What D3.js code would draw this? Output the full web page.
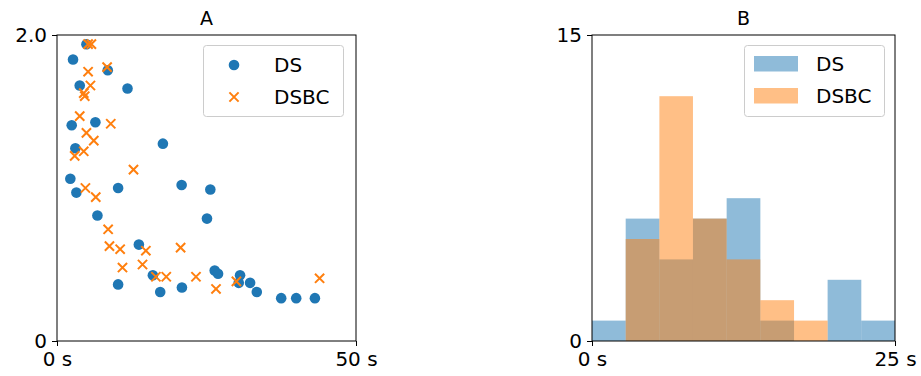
<!DOCTYPE html>
<html>
<head>
<meta charset="utf-8">
<script src="https://cdn.jsdelivr.net/npm/d3@7"></script>
<style>
  html, body { margin: 0; padding: 0; background: #fff; }
  svg { display: block; font-family: "DejaVu Sans", sans-serif; }
</style>
</head>
<body>
<svg id="chart" width="921" height="376"></svg>
<script>
// Scatter: duration (s) vs. value for each condition
const dsTime  = [4.92, 2.68, 3.80, 8.49, 11.79, 2.46, 6.42, 3.07, 17.71, 2.23, 3.24, 10.22, 20.84, 25.64, 6.76, 25.08, 13.69, 16.03, 10.22, 17.26, 20.89, 26.37, 26.93, 30.61, 30.39, 32.29, 33.41, 37.49, 40.00, 43.13];
const dsValue = [1.94, 1.84, 1.67, 1.77, 1.65, 1.41, 1.43, 1.26, 1.29, 1.06, 0.97, 1.00, 1.02, 0.99, 0.82, 0.80, 0.63, 0.43, 0.37, 0.32, 0.35, 0.46, 0.44, 0.43, 0.38, 0.38, 0.32, 0.28, 0.28, 0.28];
const dsbcTime  = [5.20, 5.75, 5.20, 8.38, 5.59, 4.47, 4.64, 3.80, 8.99, 4.92, 6.15, 4.47, 2.96, 12.79, 4.75, 6.48, 8.55, 8.77, 10.56, 14.86, 20.67, 10.95, 14.30, 16.54, 18.27, 23.24, 26.59, 30.00, 43.91];
const dsbcValue = [1.94, 1.94, 1.76, 1.79, 1.67, 1.62, 1.60, 1.47, 1.42, 1.36, 1.31, 1.24, 1.21, 1.12, 1.00, 0.94, 0.73, 0.62, 0.60, 0.59, 0.61, 0.48, 0.50, 0.42, 0.42, 0.42, 0.34, 0.39, 0.41];

// Histogram: shared bin edges (s) and counts per condition
const binEdges   = [0, 2.78, 5.56, 8.33, 11.11, 13.89, 16.67, 19.44, 22.22, 25];
const dsCounts   = [1, 6, 4, 6, 7, 1, 0, 3, 1];
const dsbcCounts = [0, 5, 12, 6, 4, 2, 1, 0, 0];

// Axis ranges and tick labels
const scatterXTicks = [0, 50];
const scatterYTicks = [0, 2.0];
const histXTicks = [0, 25];
const histYTicks = [0, 15];
const seriesNames = ["DS", "DSBC"];
const titles = ["A", "B"];

const blue = "#1f77b4", orange = "#ff7f0e";
const svg = d3.select("#chart");

const plotTop = 35, plotBottom = 341;
const panelA = { x0: 57, x1: 356 };
const panelB = { x0: 592, x1: 895 };

function frame(g, x, y, xTicks, xFmt, yTicks, yFmt, title) {
  const [xa, xb] = x.range();
  g.append("rect").attr("x", xa).attr("y", plotTop).attr("width", xb - xa).attr("height", plotBottom - plotTop)
    .attr("fill", "none").attr("stroke", "#000").attr("stroke-width", 1);
  const xAxis = g.append("g").attr("transform", `translate(0,${plotBottom})`)
    .call(d3.axisBottom(x).tickValues(xTicks).tickFormat(xFmt).tickSizeOuter(0).tickSize(5).tickPadding(6));
  const yAxis = g.append("g").attr("transform", `translate(${xa},0)`)
    .call(d3.axisLeft(y).tickValues(yTicks).tickFormat(yFmt).tickSizeOuter(0).tickSize(5).tickPadding(5));
  [xAxis, yAxis].forEach(a => {
    a.select(".domain").remove();
    a.selectAll("text").attr("font-size", 20).attr("fill", "#000").attr("font-family", "DejaVu Sans");
    a.selectAll("line").attr("stroke", "#000");
  });
  g.append("text").attr("x", (xa + xb) / 2).attr("y", 25).attr("text-anchor", "middle")
    .attr("font-size", 19).text(title);
}

// Panel A: scatter
{
  const g = svg.append("g");
  const x = d3.scaleLinear().domain([0, 50]).range([panelA.x0, panelA.x1]);
  const y = d3.scaleLinear().domain([0, 2]).range([plotBottom, plotTop]);
  frame(g, x, y, scatterXTicks, d => d + " s", scatterYTicks, d => d === 0 ? "0" : d3.format(".1f")(d), titles[0]);

  g.append("g").selectAll("circle").data(dsTime.map((t, i) => [t, dsValue[i]])).join("circle")
    .attr("cx", d => x(d[0])).attr("cy", d => y(d[1])).attr("r", 5.3).attr("fill", blue);

  const s = 4.6;
  g.append("g").selectAll("path").data(dsbcTime.map((t, i) => [t, dsbcValue[i]])).join("path")
    .attr("d", d => {
      const cx = x(d[0]), cy = y(d[1]);
      return `M${cx - s},${cy - s}L${cx + s},${cy + s}M${cx - s},${cy + s}L${cx + s},${cy - s}`;
    })
    .attr("stroke", orange).attr("stroke-width", 2).attr("fill", "none");

  // legend
  const lg = g.append("g");
  lg.append("rect").attr("x", 203.5).attr("y", 45.5).attr("width", 140).attr("height", 71).attr("rx", 3)
    .attr("fill", "#fff").attr("fill-opacity", 0.8).attr("stroke", "#ccc");
  lg.append("circle").attr("cx", 234).attr("cy", 65).attr("r", 5.3).attr("fill", blue);
  lg.append("path").attr("d", `M${234 - s},${97 - s}L${234 + s},${97 + s}M${234 - s},${97 + s}L${234 + s},${97 - s}`)
    .attr("stroke", orange).attr("stroke-width", 2);
  seriesNames.forEach((n, i) => lg.append("text").attr("x", 274).attr("y", 65 + i * 32).attr("dy", "0.35em")
    .attr("font-size", 20).text(n));
}

// Panel B: overlaid histograms
{
  const g = svg.append("g");
  const x = d3.scaleLinear().domain([0, 25]).range([panelB.x0, panelB.x1]);
  const y = d3.scaleLinear().domain([0, 15]).range([plotBottom, plotTop]);

  const bars = (counts, color) => g.append("g").selectAll("rect")
    .data(counts.map((c, i) => ({ c, a: binEdges[i], b: binEdges[i + 1] })).filter(d => d.c > 0))
    .join("rect")
    .attr("x", d => x(d.a)).attr("width", d => x(d.b) - x(d.a))
    .attr("y", d => y(d.c)).attr("height", d => y(0) - y(d.c))
    .attr("fill", color).attr("fill-opacity", 0.5);
  bars(dsCounts, blue);
  bars(dsbcCounts, orange);

  frame(g, x, y, histXTicks, d => d + " s", histYTicks, d => String(d), titles[1]);

  const lg = g.append("g");
  lg.append("rect").attr("x", 744.5).attr("y", 45.5).attr("width", 140).attr("height", 71).attr("rx", 3)
    .attr("fill", "#fff").attr("fill-opacity", 0.8).attr("stroke", "#ccc");
  [blue, orange].forEach((c, i) => lg.append("rect").attr("x", 754).attr("y", 56 + i * 32)
    .attr("width", 44).attr("height", 15.5).attr("fill", c).attr("fill-opacity", 0.5));
  seriesNames.forEach((n, i) => lg.append("text").attr("x", 816).attr("y", 64 + i * 32).attr("dy", "0.35em")
    .attr("font-size", 20).text(n));
}
</script>
</body>
</html>
